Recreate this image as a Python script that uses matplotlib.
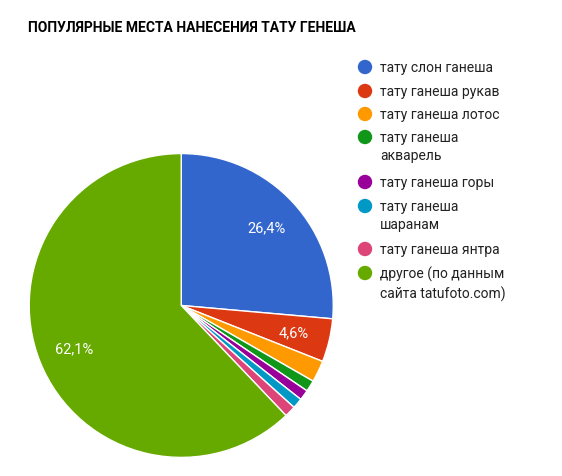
import matplotlib
matplotlib.use("Agg")
import matplotlib.pyplot as plt

labels = ["тату слон ганеша", "тату ганеша рукав", "тату ганеша лотос", "тату ганеша\nакварель",
          "тату ганеша горы", "тату ганеша\nшаранам", "тату ганеша янтра", "другое (по данным\nсайта tatufoto.com)"]
values = [26.4, 4.6, 2.3, 1.2, 1.1, 1.1, 1.2, 62.1]
colors = ["#3366cc", "#dc3912", "#ff9900", "#109618", "#990099", "#0099c6", "#dd4477", "#66aa00"]

plt.rcParams['font.family'] = ['Roboto', 'DejaVu Sans']
fig = plt.figure(figsize=(5.62, 4.77), dpi=100)
ax = fig.add_axes([0.052, 0.039, 0.541, 0.637])
def fmt(p):
    return (f"{p:.1f}".replace(".", ",") + "%") if p > 4 else ""
wedges, _, autotexts = ax.pie(values, colors=colors, startangle=90, counterclock=False,
                              autopct=fmt, pctdistance=0.76,
                              wedgeprops=dict(edgecolor="white", linewidth=1))
for t in autotexts:
    t.set_color("white"); t.set_fontsize(10.5)
ax.set_aspect("auto")
ax.set_xlim(-1, 1)
ax.set_ylim(-1, 1)

fig.text(28/562, 1-28/477, "ПОПУЛЯРНЫЕ МЕСТА НАНЕСЕНИЯ ТАТУ ГЕНЕША", fontsize=10, fontweight="bold", va="center")
ys = [68, 92, 115, 138, 183, 207, 250, 274]
for y, lab, c in zip(ys, labels, colors):
    fig.patches.append(matplotlib.patches.Ellipse((365/562, 1-y/477), 13/562, 13/477,
                       transform=fig.transFigure, color=c))
    fig.text(380/562, 1-(y-7)/477, lab, fontsize=10, color="#222222", va="top", linespacing=1.4)
fig.savefig("out.png", dpi=100)
